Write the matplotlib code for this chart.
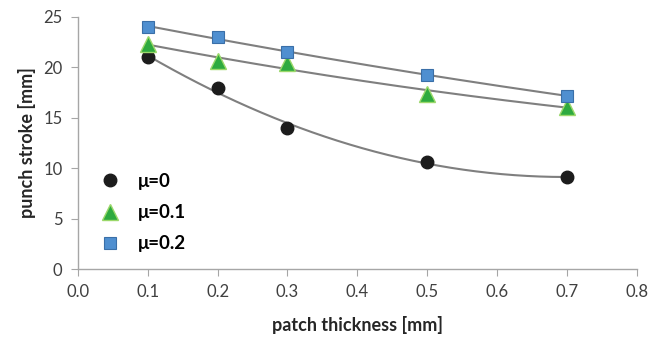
import numpy as np
import matplotlib
matplotlib.use("Agg")
import matplotlib.pyplot as plt

plt.rcParams['font.family'] = ['Lato', 'DejaVu Sans']

thickness = [0.1, 0.2, 0.3, 0.5, 0.7]
mu0 = [21.0, 18.0, 14.0, 10.6, 9.1]
mu01 = [22.3, 20.6, 20.4, 17.4, 16.1]
mu02 = [24.0, 23.0, 21.5, 19.2, 17.2]
labels = ["μ=0", "μ=0.1", "μ=0.2"]
xticks = [0.0, 0.1, 0.2, 0.3, 0.4, 0.5, 0.6, 0.7, 0.8]
yticks = [0, 5, 10, 15, 20, 25]

fig = plt.figure(figsize=(6.49, 3.38), dpi=100)
ax = fig.add_axes([0.120, 0.204, 0.861, 0.746])

x = np.array(thickness)
xs = np.linspace(x.min(), x.max(), 200)
for ys in (mu0, mu01, mu02):
    c = np.polyfit(x, ys, 2)
    ax.plot(xs, np.polyval(c, xs), color='#7f7f7f', lw=1.5, zorder=2)

ax.plot(thickness, mu0, 'o', color='#1c1c1c', ms=9, mec='#1c1c1c', label=labels[0], zorder=3)
ax.plot(thickness, mu01, '^', color='#2eaa3f', ms=11, mec='#9bd86a', mew=1.0, label=labels[1], zorder=3)
ax.plot(thickness, mu02, 's', color='#4f8fd0', ms=8, mec='#3a6fa8', mew=0.8, label=labels[2], zorder=4)

ax.set_xlim(0, 0.8)
ax.set_ylim(0, 25)
ax.set_xticks(xticks)
ax.set_xticklabels([f"{t:.1f}" for t in xticks])
ax.set_yticks(yticks)
for s in ('top', 'right'):
    ax.spines[s].set_visible(False)
for s in ('left', 'bottom'):
    ax.spines[s].set_color('#a6a6a6')
    ax.spines[s].set_linewidth(1.0)
ax.tick_params(axis='both', direction='out', length=5, color='#a6a6a6', labelsize=12, labelcolor='#404040', pad=6)

ax.set_xlabel("patch thickness [mm]", fontsize=13, fontweight='bold', color='#262626', labelpad=11)
ax.set_ylabel("punch stroke [mm]", fontsize=13, fontweight='bold', color='#262626', labelpad=5)

leg = ax.legend(loc='lower left', bbox_to_anchor=(0.0, 0.0), frameon=False,
                prop={'weight': 'bold', 'size': 13.5}, handletextpad=0.7,
                labelspacing=0.75, borderaxespad=0.5, handlelength=1.6)

fig.savefig("out.png", dpi=100)
